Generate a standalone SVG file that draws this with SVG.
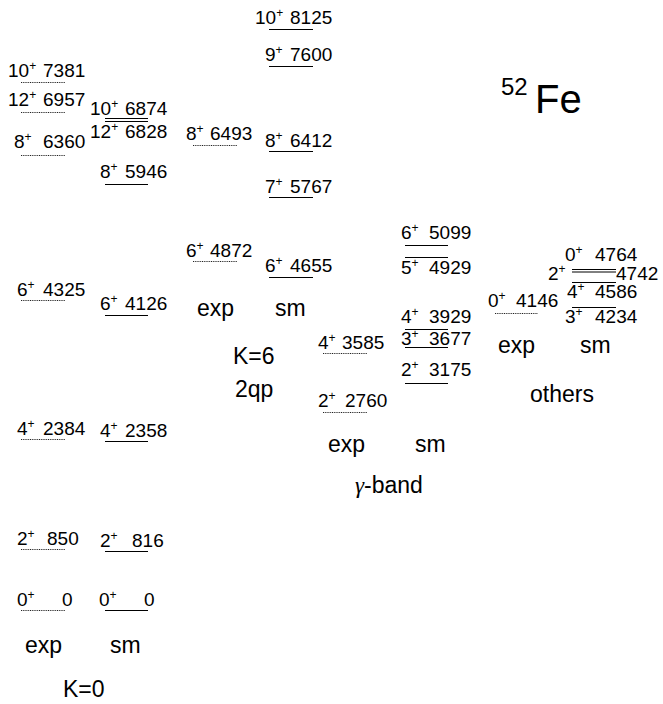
<svg xmlns="http://www.w3.org/2000/svg" width="663" height="704" viewBox="0 0 663 704">
<style>
text{font-family:"Liberation Sans",Arial,Helvetica,sans-serif;fill:#000}
.lv{font-size:19px}
.sup{font-size:12px}
.lab{font-size:23px}
.exp{stroke:#222;stroke-width:1.2;stroke-dasharray:1 0.8;fill:none}
.sm{stroke:#000;stroke-width:1;fill:none}
</style>
<rect width="663" height="704" fill="#fff"/>
<g id="connectors"/>
<!-- K=0 exp -->
<g id="k0-exp">
<g id="k0e-10"><line class="exp" x1="21" y1="82.5" x2="65" y2="82.5"/><text class="lv" x="8" y="77">10<tspan class="sup" dy="-7">+</tspan><tspan x="43" dy="7">7381</tspan></text></g>
<g id="k0e-12"><line class="exp" x1="21" y1="112.5" x2="65" y2="112.5"/><text class="lv" x="8" y="106">12<tspan class="sup" dy="-7">+</tspan><tspan x="43" dy="7">6957</tspan></text></g>
<g id="k0e-8"><line class="exp" x1="21" y1="155.5" x2="65" y2="155.5"/><text class="lv" x="14" y="148">8<tspan class="sup" dy="-7">+</tspan><tspan x="43" dy="7">6360</tspan></text></g>
<g id="k0e-6"><line class="exp" x1="21" y1="300.5" x2="65" y2="300.5"/><text class="lv" x="17" y="296">6<tspan class="sup" dy="-7">+</tspan><tspan x="43" dy="7">4325</tspan></text></g>
<g id="k0e-4"><line class="exp" x1="21" y1="439.5" x2="65" y2="439.5"/><text class="lv" x="17" y="435">4<tspan class="sup" dy="-7">+</tspan><tspan x="43" dy="7">2384</tspan></text></g>
<g id="k0e-2"><line class="exp" x1="21" y1="549.5" x2="65" y2="549.5"/><text class="lv" x="17" y="545">2<tspan class="sup" dy="-7">+</tspan><tspan x="47" dy="7">850</tspan></text></g>
<g id="k0e-0"><line class="exp" x1="21" y1="610.5" x2="65" y2="610.5"/><text class="lv" x="17" y="606">0<tspan class="sup" dy="-7">+</tspan><tspan x="62" dy="7">0</tspan></text></g>
</g>
<!-- K=0 sm -->
<g id="k0-sm">
<g id="k0s-10"><line class="sm" x1="105" y1="118.5" x2="148" y2="118.5"/><text class="lv" x="90" y="115">10<tspan class="sup" dy="-7">+</tspan><tspan x="125" dy="7">6874</tspan></text></g>
<g id="k0s-12"><line class="sm" x1="105" y1="121.5" x2="148" y2="121.5"/><text class="lv" x="90" y="138">12<tspan class="sup" dy="-7">+</tspan><tspan x="125" dy="7">6828</tspan></text></g>
<g id="k0s-8"><line class="sm" x1="105" y1="184.5" x2="148" y2="184.5"/><text class="lv" x="100" y="178">8<tspan class="sup" dy="-7">+</tspan><tspan x="125" dy="7">5946</tspan></text></g>
<g id="k0s-6"><line class="sm" x1="105" y1="315.5" x2="148" y2="315.5"/><text class="lv" x="100" y="310">6<tspan class="sup" dy="-7">+</tspan><tspan x="125" dy="7">4126</tspan></text></g>
<g id="k0s-4"><line class="sm" x1="105" y1="441.5" x2="148" y2="441.5"/><text class="lv" x="100" y="437">4<tspan class="sup" dy="-7">+</tspan><tspan x="125" dy="7">2358</tspan></text></g>
<g id="k0s-2"><line class="sm" x1="105" y1="551.5" x2="148" y2="551.5"/><text class="lv" x="100" y="547">2<tspan class="sup" dy="-7">+</tspan><tspan x="132" dy="7">816</tspan></text></g>
<g id="k0s-0"><line class="sm" x1="105" y1="610.5" x2="148" y2="610.5"/><text class="lv" x="99" y="606">0<tspan class="sup" dy="-7">+</tspan><tspan x="144" dy="7">0</tspan></text></g>
</g>
<!-- K=6 exp -->
<g id="k6-exp">
<g id="k6e-8"><line class="exp" x1="193" y1="145.5" x2="237" y2="145.5"/><text class="lv" x="186" y="140">8<tspan class="sup" dy="-7">+</tspan><tspan x="210" dy="7">6493</tspan></text></g>
<g id="k6e-6"><line class="exp" x1="193" y1="261.5" x2="237" y2="261.5"/><text class="lv" x="186" y="257">6<tspan class="sup" dy="-7">+</tspan><tspan x="210" dy="7">4872</tspan></text></g>
</g>
<!-- K=6 sm -->
<g id="k6-sm">
<g id="k6s-10"><line class="sm" x1="269" y1="29.5" x2="313" y2="29.5"/><text class="lv" x="255" y="24">10<tspan class="sup" dy="-7">+</tspan><tspan x="290" dy="7">8125</tspan></text></g>
<g id="k6s-9"><line class="sm" x1="269" y1="66.5" x2="313" y2="66.5"/><text class="lv" x="265" y="61">9<tspan class="sup" dy="-7">+</tspan><tspan x="290" dy="7">7600</tspan></text></g>
<g id="k6s-8"><line class="sm" x1="269" y1="151.5" x2="313" y2="151.5"/><text class="lv" x="265" y="147">8<tspan class="sup" dy="-7">+</tspan><tspan x="290" dy="7">6412</tspan></text></g>
<g id="k6s-7"><line class="sm" x1="269" y1="197.5" x2="313" y2="197.5"/><text class="lv" x="265" y="193">7<tspan class="sup" dy="-7">+</tspan><tspan x="290" dy="7">5767</tspan></text></g>
<g id="k6s-6"><line class="sm" x1="269" y1="277.5" x2="313" y2="277.5"/><text class="lv" x="265" y="272">6<tspan class="sup" dy="-7">+</tspan><tspan x="290" dy="7">4655</tspan></text></g>
</g>
<!-- gamma exp -->
<g id="g-exp">
<g id="ge-4"><line class="exp" x1="323" y1="353.5" x2="367" y2="353.5"/><text class="lv" x="318" y="349">4<tspan class="sup" dy="-7">+</tspan><tspan x="342" dy="7">3585</tspan></text></g>
<g id="ge-2"><line class="exp" x1="323" y1="412.5" x2="367" y2="412.5"/><text class="lv" x="318" y="407">2<tspan class="sup" dy="-7">+</tspan><tspan x="345" dy="7">2760</tspan></text></g>
</g>
<!-- gamma sm -->
<g id="g-sm">
<g id="gs-6"><line class="sm" x1="405" y1="245.5" x2="448" y2="245.5"/><text class="lv" x="401" y="239">6<tspan class="sup" dy="-7">+</tspan><tspan x="429" dy="7">5099</tspan></text></g>
<g id="gs-5"><line class="sm" x1="405" y1="257.5" x2="448" y2="257.5"/><text class="lv" x="401" y="274">5<tspan class="sup" dy="-7">+</tspan><tspan x="429" dy="7">4929</tspan></text></g>
<g id="gs-4"><line class="sm" x1="405" y1="329.5" x2="448" y2="329.5"/><text class="lv" x="401" y="323">4<tspan class="sup" dy="-7">+</tspan><tspan x="429" dy="7">3929</tspan></text></g>
<g id="gs-3"><line class="sm" x1="405" y1="347.5" x2="448" y2="347.5"/><text class="lv" x="401" y="345">3<tspan class="sup" dy="-7">+</tspan><tspan x="429" dy="7">3677</tspan></text></g>
<g id="gs-2"><line class="sm" x1="405" y1="383.5" x2="448" y2="383.5"/><text class="lv" x="401" y="376">2<tspan class="sup" dy="-7">+</tspan><tspan x="429" dy="7">3175</tspan></text></g>
</g>
<!-- others -->
<g id="o-exp">
<g id="oe-0"><line class="exp" x1="495" y1="313.5" x2="538" y2="313.5"/><text class="lv" x="488" y="307">0<tspan class="sup" dy="-7">+</tspan><tspan x="516" dy="7">4146</tspan></text></g>
</g>
<g id="o-sm">
<g id="os-0"><line class="sm" x1="572" y1="269.5" x2="616" y2="269.5"/><text class="lv" x="565" y="261">0<tspan class="sup" dy="-7">+</tspan><tspan x="595" dy="7">4764</tspan></text></g>
<g id="os-2"><line class="sm" x1="572" y1="272" x2="616" y2="272"/><text class="lv" x="548" y="280">2<tspan class="sup" dy="-7">+</tspan><tspan x="616" dy="7">4742</tspan></text></g>
<g id="os-4"><line class="sm" x1="572" y1="282.5" x2="616" y2="282.5"/><text class="lv" x="567" y="298">4<tspan class="sup" dy="-7">+</tspan><tspan x="595" dy="7">4586</tspan></text></g>
<g id="os-3"><line class="sm" x1="572" y1="307.5" x2="616" y2="307.5"/><text class="lv" x="565" y="323">3<tspan class="sup" dy="-7">+</tspan><tspan x="595" dy="7">4234</tspan></text></g>
</g>
<!-- labels -->
<g id="labels">
<text class="lab" x="25" y="653">exp</text>
<text class="lab" x="110" y="653">sm</text>
<text class="lab" x="63" y="697">K=0</text>
<text class="lab" x="197" y="316">exp</text>
<text class="lab" x="275" y="316">sm</text>
<text class="lab" x="233" y="364">K=6</text>
<text class="lab" x="235" y="397">2qp</text>
<text class="lab" x="328" y="452">exp</text>
<text class="lab" x="415" y="452">sm</text>
<text class="lab" x="355" y="493"><tspan font-family="'Liberation Serif',serif" font-style="italic">γ</tspan>-band</text>
<text class="lab" x="498" y="353">exp</text>
<text class="lab" x="580" y="353">sm</text>
<text class="lab" x="530" y="402">others</text>
</g>
<g id="title">
<text x="501" y="95" font-size="24">52</text>
<text x="535" y="113" font-size="40">Fe</text>
</g>
</svg>
